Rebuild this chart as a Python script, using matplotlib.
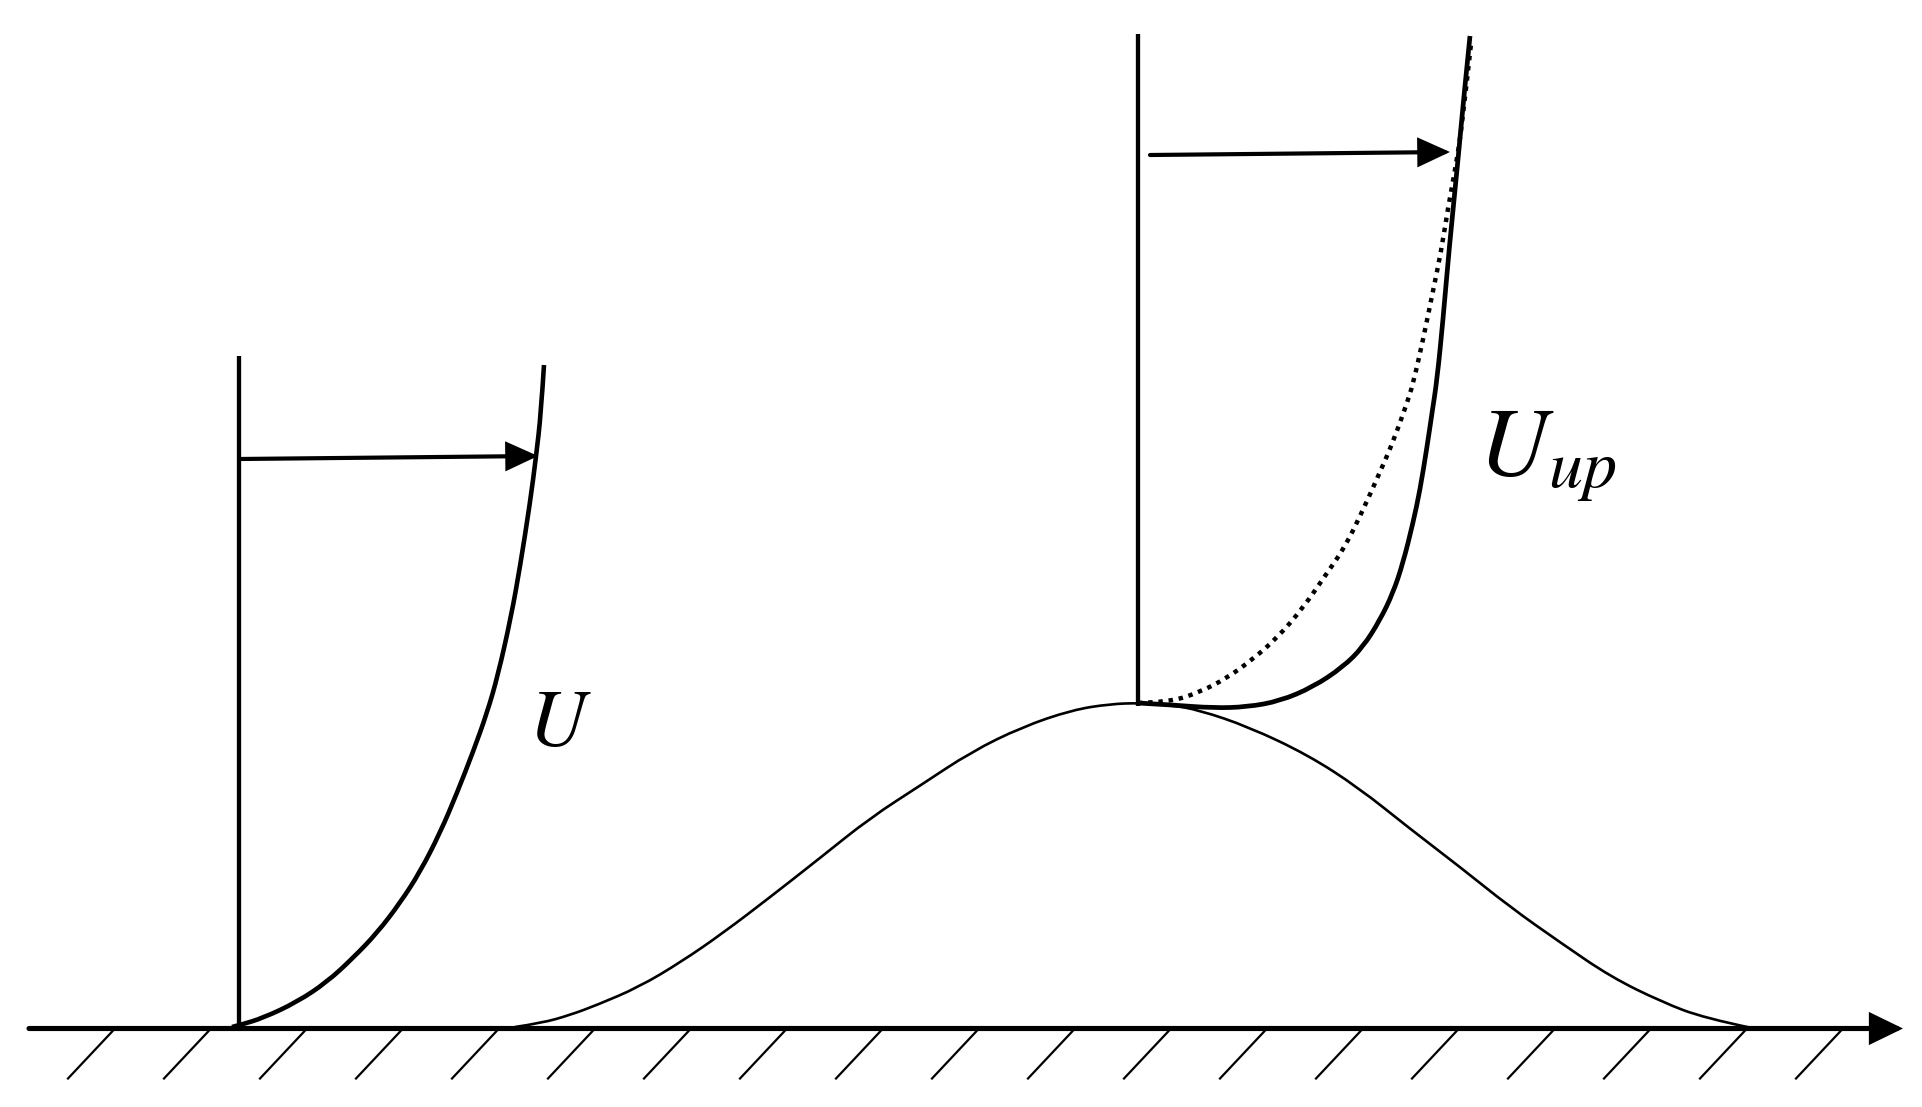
import matplotlib
matplotlib.use("Agg")
import matplotlib.pyplot as plt
from matplotlib.path import Path
from matplotlib.patches import PathPatch

plt.rcParams['mathtext.fontset'] = 'stix'

# everything, in its own pixels
wall_start, wall_end, wall_y = 29, 1903, 1028.5
hatch_top = [115, 211, 307, 403, 499, 595, 691, 787, 883, 979, 1075, 1171, 1267, 1363, 1459, 1555, 1651, 1747, 1843]
hatch_dx, hatch_dy = -47, 50

# upstream profile
u_x = [232, 240, 263, 297, 327, 353, 377, 400, 420, 440, 457, 473, 487, 498, 511, 520, 530, 536, 541, 544]
u_y = [1027, 1025, 1018, 1002, 982, 958, 933, 903, 872, 833, 793, 752, 713, 675, 617, 567, 503, 457, 413, 365]

# hill
hill_x = [515, 542, 570, 597, 639, 681, 723, 769, 820, 870, 921, 971, 1022, 1072, 1110, 1140, 1170, 1199, 1249, 1308, 1359, 1409, 1460, 1510, 1561, 1611, 1662, 1704, 1752]
hill_y = [1027, 1023, 1015, 1005, 987, 962, 933, 898, 858, 818, 785, 752, 727, 710, 704, 703, 705, 710, 727, 755, 788, 828, 867, 907, 943, 977, 1002, 1018, 1028]

# speed-up profile and the dotted one it is compared with
up_x = [1138, 1173, 1213, 1247, 1280, 1313, 1343, 1363, 1380, 1393, 1403, 1413, 1420, 1427, 1432, 1437, 1443, 1449, 1458, 1464, 1470]
up_y = [703, 705, 708, 707, 701, 687, 667, 647, 620, 593, 563, 523, 490, 447, 413, 380, 320, 250, 160, 95, 36]
dot_x = [1138, 1170, 1200, 1227, 1253, 1277, 1303, 1327, 1345, 1363, 1380, 1393, 1407, 1413, 1423, 1433, 1441, 1448, 1456, 1462, 1471]
dot_y = [703, 702, 692, 678, 659, 638, 608, 573, 547, 510, 472, 442, 403, 384, 340, 291, 252, 208, 165, 126, 44]

left_wall = [239, 356, 1028]
right_wall = [1138, 34, 706]

fig = plt.figure(figsize=(19.22, 11.07), dpi=100)
ax = fig.add_axes([0, 0, 1, 1])
ax.set_xlim(0, 1922)
ax.set_ylim(1107, 0)
ax.axis('off')

def arrow(x0, y0, x1, y1, lw, hl, hw):
    ax.annotate('', xy=(x1, y1), xytext=(x0, y0),
                arrowprops=dict(arrowstyle=f'-|>,head_length={hl},head_width={hw}',
                                lw=lw, color='k', fc='k', shrinkA=0, shrinkB=0,
                                mutation_scale=10, joinstyle='miter'))

# read points are the control points of quadratic segments, so no kinks show
def curve(xs, ys, **kw):
    verts = [(xs[0], ys[0])]
    codes = [Path.MOVETO]
    for i in range(1, len(xs) - 1):
        if i < len(xs) - 2:
            end = ((xs[i] + xs[i+1]) / 2, (ys[i] + ys[i+1]) / 2)
        else:
            end = (xs[i+1], ys[i+1])
        verts += [(xs[i], ys[i]), end]
        codes += [Path.CURVE3, Path.CURVE3]
    ax.add_patch(PathPatch(Path(verts, codes), fc='none', ec='k', **kw))

# ground
arrow(wall_start, wall_y, wall_end, wall_y, 3.7, 1.85, 0.9)
for x in hatch_top:
    ax.plot([x, x + hatch_dx], [wall_y, wall_y + hatch_dy], color='k', lw=1.6)

# verticals
ax.plot([left_wall[0]] * 2, left_wall[1:], color='k', lw=3.1, solid_capstyle='butt')
ax.plot([right_wall[0]] * 2, right_wall[1:], color='k', lw=3.1, solid_capstyle='butt')

curve(hill_x, hill_y, lw=1.9)
curve(u_x, u_y, lw=3.3)
curve(up_x, up_y, lw=3.4)
curve(dot_x, dot_y, lw=3.2, linestyle=(0, (1, 1.3)))

arrow(239, 459, 538, 456, 3.0, 1.85, 0.85)
arrow(1150, 155, 1450, 152, 3.0, 1.85, 0.85)

ax.text(528, 746, '$U$', fontsize=58, ha='left', va='baseline', color='k')
ax.text(1478, 475, '$U_{up}$', fontsize=70, ha='left', va='baseline', color='k')

fig.savefig('out.png', dpi=100, facecolor='white')
